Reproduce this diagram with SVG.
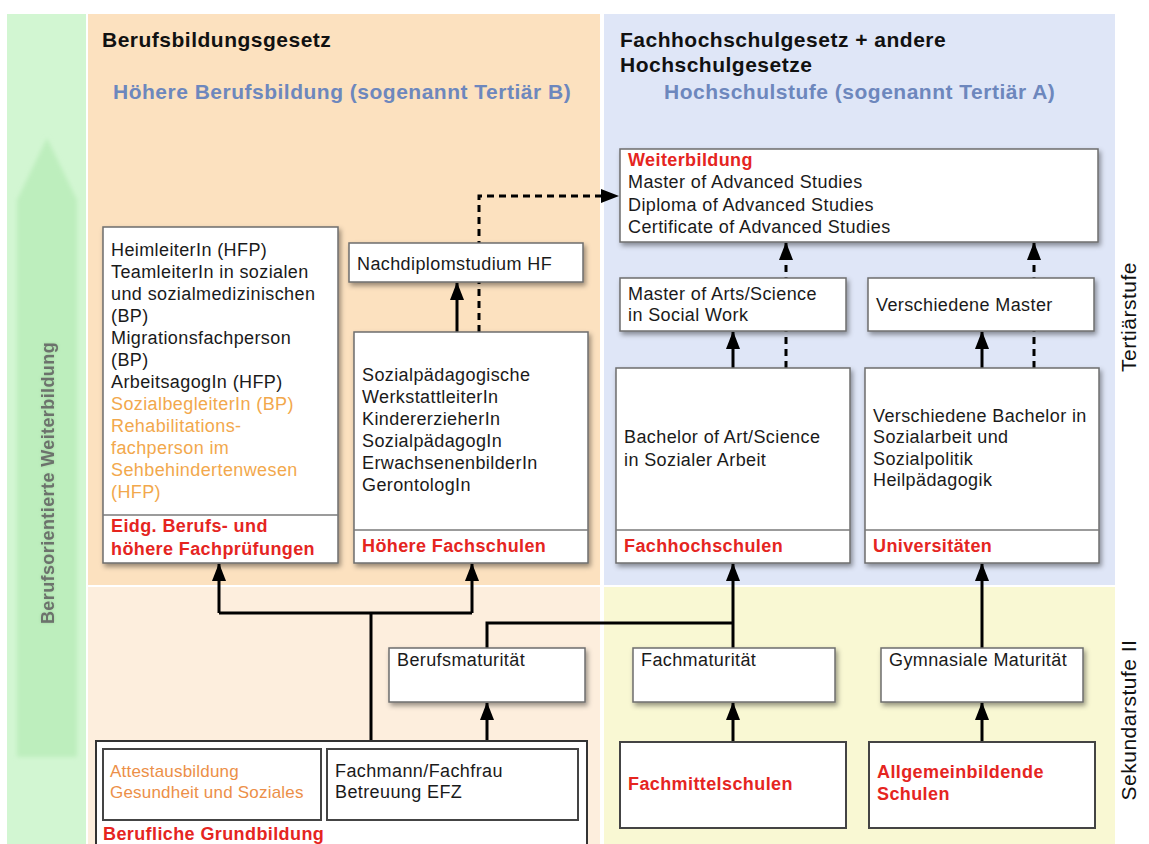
<svg xmlns="http://www.w3.org/2000/svg" width="1149" height="844" viewBox="0 0 1149 844">
<defs>
<style>
.t{font-family:"Liberation Sans",Arial,Helvetica,sans-serif;font-size:18px;letter-spacing:0.4px;fill:#1a1a1a}
.bd{font-weight:bold}
.red{fill:#e5251f;font-weight:bold}
.or1{fill:#f2a84c}
.or2{fill:#ec8f48;font-size:17px;letter-spacing:0.2px}
.hd{font-size:21px;font-weight:bold;letter-spacing:0.5px;fill:#111}
.sub{font-size:21px;font-weight:bold;letter-spacing:0.5px;fill:#6d87bd}
.side{font-size:21px;letter-spacing:0.5px;fill:#111}
.box{fill:#fff;stroke:#6e6e6e;stroke-width:1.5;filter:url(#sh)}
.plain{fill:#fff;stroke:#444;stroke-width:2}
.div{stroke:#7a7a7a;stroke-width:1.5}
.ln{fill:none;stroke:#000;stroke-width:3}
.dash{fill:none;stroke:#000;stroke-width:3;stroke-dasharray:7 5}
</style>
<filter id="sh" x="-10%" y="-10%" width="130%" height="140%">
<feDropShadow dx="2" dy="3" stdDeviation="2.5" flood-color="#000" flood-opacity="0.4"/>
</filter>
<filter id="blur" x="-20%" y="-20%" width="140%" height="140%">
<feGaussianBlur stdDeviation="2"/>
</filter>
<filter id="glow" x="-20%" y="-20%" width="140%" height="140%">
<feDropShadow dx="0" dy="0" stdDeviation="1.5" flood-color="#6a9a6a" flood-opacity="0.35"/>
</filter>
<marker id="ah" viewBox="0 0 18 14" refX="17" refY="7" markerWidth="18" markerHeight="14" markerUnits="userSpaceOnUse" orient="auto">
<path d="M0,0 L18,7 L0,14 z" fill="#000"/>
</marker>
</defs>

<rect x="0" y="0" width="1149" height="844" fill="#fff"/>

<!-- background regions -->
<g id="backgrounds">
<rect x="7" y="14" width="79" height="830" fill="#d2f6d2"/>
<g filter="url(#blur)">
<rect x="17" y="200" width="60" height="557" fill="#bdeebd"/>
<polygon points="47,138 77,200 17,200" fill="#bdeebd"/>
</g>
<rect x="88" y="14" width="512" height="571" fill="#fce1bf"/>
<rect x="88" y="587" width="512" height="257" fill="#fdeedd"/>
<rect x="604" y="14" width="511" height="571" fill="#dfe6f7"/>
<rect x="604" y="587" width="511" height="257" fill="#f9f8d3"/>
</g>

<!-- headings -->
<g id="headings">
<text class="t hd" x="102" y="47">Berufsbildungsgesetz</text>
<text class="t sub" x="113" y="99">Höhere Berufsbildung (sogenannt Tertiär B)</text>
<text class="t hd" x="620" y="47">Fachhochschulgesetz + andere</text>
<text class="t hd" x="620" y="72">Hochschulgesetze</text>
<text class="t sub" x="664" y="99">Hochschulstufe (sogenannt Tertiär A)</text>
<text class="t bd" x="54" y="483" transform="rotate(-90 54 483)" text-anchor="middle" style="fill:#6c726c" filter="url(#glow)">Berufsorientierte Weiterbildung</text>
<text class="t side" x="1136" y="317" transform="rotate(-90 1136 317)" text-anchor="middle">Tertiärstufe</text>
<text class="t side" x="1136" y="720" transform="rotate(-90 1136 720)" text-anchor="middle">Sekundarstufe II</text>
</g>

<!-- connectors -->
<g id="connectors">
<path class="dash" d="M479,332 L479,196 L618,196" marker-end="url(#ah)"/>
<path class="ln" d="M457,332 L457,283" marker-end="url(#ah)"/>
<path class="ln" d="M733,368 L733,332" marker-end="url(#ah)"/>
<path class="dash" d="M786,368 L786,243" marker-end="url(#ah)"/>
<path class="ln" d="M982,368 L982,332" marker-end="url(#ah)"/>
<path class="dash" d="M1034,368 L1034,243" marker-end="url(#ah)"/>
<path class="ln" d="M371,741 L371,613"/>
<path class="ln" d="M219,613 L472,613"/>
<path class="ln" d="M219,613 L219,564" marker-end="url(#ah)"/>
<path class="ln" d="M472,613 L472,564" marker-end="url(#ah)"/>
<path class="ln" d="M487,749 L487,703" marker-end="url(#ah)"/>
<path class="ln" d="M487,648 L487,623 L733,623"/>
<path class="ln" d="M733,648 L733,564" marker-end="url(#ah)"/>
<path class="ln" d="M733,742 L733,703" marker-end="url(#ah)"/>
<path class="ln" d="M982,648 L982,564" marker-end="url(#ah)"/>
<path class="ln" d="M982,742 L982,703" marker-end="url(#ah)"/>
</g>

<!-- nodes -->
<g id="node-hfp">
<rect class="box" x="103" y="227" width="235" height="336"/>
<line class="div" x1="103" y1="515" x2="338" y2="515"/>
<text class="t" x="111" y="256">HeimleiterIn (HFP)</text>
<text class="t" x="111" y="278">TeamleiterIn in sozialen</text>
<text class="t" x="111" y="300">und sozialmedizinischen</text>
<text class="t" x="111" y="322">(BP)</text>
<text class="t" x="111" y="344">Migrationsfachperson</text>
<text class="t" x="111" y="366">(BP)</text>
<text class="t" x="111" y="388">ArbeitsagogIn (HFP)</text>
<text class="t or1" x="111" y="410">SozialbegleiterIn (BP)</text>
<text class="t or1" x="111" y="432">Rehabilitations-</text>
<text class="t or1" x="111" y="454">fachperson im</text>
<text class="t or1" x="111" y="476">Sehbehindertenwesen</text>
<text class="t or1" x="111" y="498">(HFP)</text>
<text class="t red" x="111" y="532">Eidg. Berufs- und</text>
<text class="t red" x="111" y="555">höhere Fachprüfungen</text>
</g>

<g id="node-nachdiplom">
<rect class="box" x="349" y="243" width="234" height="39"/>
<text class="t" x="357" y="270">Nachdiplomstudium HF</text>
</g>

<g id="node-hf">
<rect class="box" x="354" y="332" width="234" height="231"/>
<line class="div" x1="354" y1="530" x2="588" y2="530"/>
<text class="t" x="362" y="381">Sozialpädagogische</text>
<text class="t" x="362" y="403">WerkstattleiterIn</text>
<text class="t" x="362" y="425">KindererzieherIn</text>
<text class="t" x="362" y="447">SozialpädagogIn</text>
<text class="t" x="362" y="469">ErwachsenenbilderIn</text>
<text class="t" x="362" y="491">GerontologIn</text>
<text class="t red" x="362" y="552">Höhere Fachschulen</text>
</g>

<g id="node-weiterbildung">
<rect class="box" x="620" y="149" width="478" height="93"/>
<text class="t red" x="628" y="166">Weiterbildung</text>
<text class="t" x="628" y="188">Master of Advanced Studies</text>
<text class="t" x="628" y="211">Diploma of Advanced Studies</text>
<text class="t" x="628" y="233">Certificate of Advanced Studies</text>
</g>

<g id="node-master-sw">
<rect class="box" x="620" y="278" width="226" height="53"/>
<text class="t" x="628" y="300">Master of Arts/Science</text>
<text class="t" x="628" y="321">in Social Work</text>
</g>

<g id="node-master-uni">
<rect class="box" x="868" y="278" width="226" height="53"/>
<text class="t" x="876" y="311">Verschiedene Master</text>
</g>

<g id="node-fh">
<rect class="box" x="616" y="368" width="234" height="195"/>
<line class="div" x1="616" y1="530" x2="850" y2="530"/>
<text class="t" x="624" y="443">Bachelor of Art/Science</text>
<text class="t" x="624" y="466">in Sozialer Arbeit</text>
<text class="t red" x="624" y="552">Fachhochschulen</text>
</g>

<g id="node-uni">
<rect class="box" x="865" y="368" width="234" height="195"/>
<line class="div" x1="865" y1="530" x2="1099" y2="530"/>
<text class="t" x="873" y="422">Verschiedene Bachelor in</text>
<text class="t" x="873" y="443">Sozialarbeit und</text>
<text class="t" x="873" y="465">Sozialpolitik</text>
<text class="t" x="873" y="486">Heilpädagogik</text>
<text class="t red" x="873" y="552">Universitäten</text>
</g>

<g id="node-bm">
<rect class="box" x="389" y="648" width="196" height="54"/>
<text class="t" x="397" y="666">Berufsmaturität</text>
</g>

<g id="node-fm">
<rect class="box" x="633" y="648" width="202" height="54"/>
<text class="t" x="641" y="666">Fachmaturität</text>
</g>

<g id="node-gm">
<rect class="box" x="881" y="648" width="202" height="54"/>
<text class="t" x="889" y="666">Gymnasiale Maturität</text>
</g>

<g id="node-fms">
<rect class="plain" x="620" y="742" width="226" height="86"/>
<text class="t red" x="628" y="790">Fachmittelschulen</text>
</g>

<g id="node-allg">
<rect class="plain" x="869" y="742" width="226" height="86"/>
<text class="t red" x="877" y="778">Allgemeinbildende</text>
<text class="t red" x="877" y="800">Schulen</text>
</g>

<g id="node-grundbildung">
<rect class="plain" x="96" y="741" width="491" height="110" style="stroke:#333"/>
<text class="t red" x="103" y="840">Berufliche Grundbildung</text>
</g>

<g id="node-attest">
<rect class="plain" x="103" y="749" width="218" height="71"/>
<text class="t or2" x="110" y="777">Attestausbildung</text>
<text class="t or2" x="110" y="798">Gesundheit und Soziales</text>
</g>

<g id="node-efz">
<rect class="plain" x="327" y="749" width="251" height="71"/>
<text class="t" x="335" y="777">Fachmann/Fachfrau</text>
<text class="t" x="335" y="798">Betreuung EFZ</text>
</g>
</svg>
